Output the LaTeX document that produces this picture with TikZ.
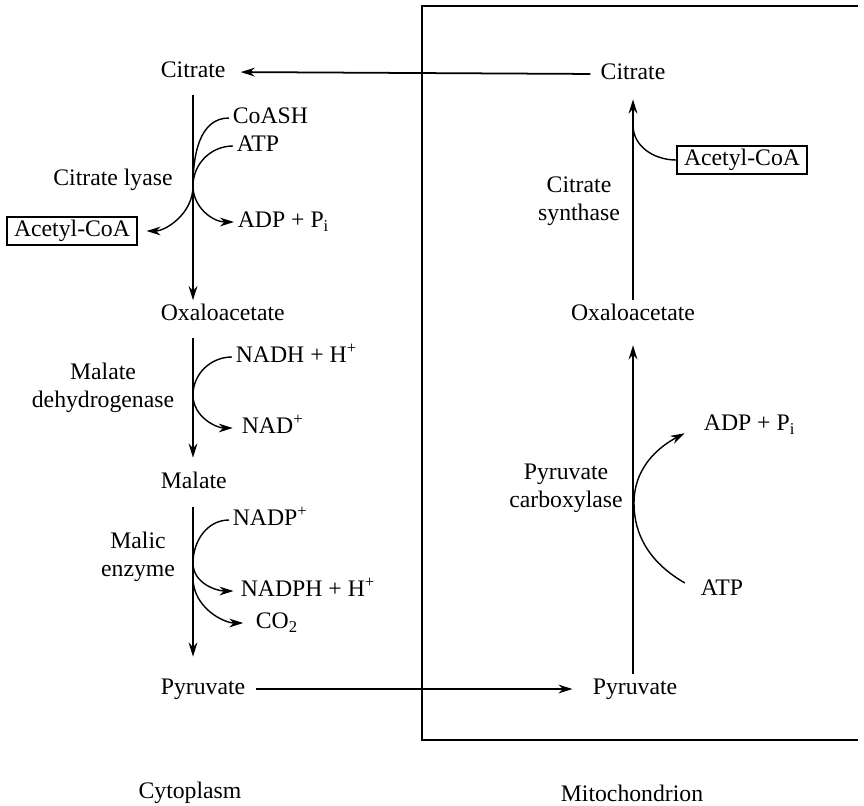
\documentclass[tikz,border=0pt]{standalone}
\usepackage{fontspec}
\setmainfont{Liberation Serif}
\usetikzlibrary{arrows.meta}

\tikzset{
  met/.style={inner sep=2pt,text height=9.5pt,text depth=3pt},
  cof/.style={met,anchor=west},
  enz/.style={align=center},
  coabox/.style={met,draw,line width=0.9pt,inner xsep=4pt,inner ysep=1.7pt},
  flow/.style={line width=1pt,-{Stealth[length=8pt,width=5pt]}},
  side/.style={line width=0.8pt},
  sidearr/.style={side,-{Stealth[length=8pt,width=5pt]}},
}

\begin{document}
\begin{tikzpicture}[x=0.02cm,y=-0.02cm,font=\fontsize{13.5}{16}\selectfont]
\useasboundingbox (0,0) rectangle (864,805);

% mitochondrial membrane
\draw[line width=1.6pt] (858,6) -| (422,740) -- (858,740);

% cytoplasm
\node[met,anchor=west] (citL) at (157,72) {Citrate};
\node[met,anchor=west] (oxL) at (157,315) {Oxaloacetate};
\node[met,anchor=west] (malL) at (157,483) {Malate};
\node[met,anchor=west] (pyL) at (157,689) {Pyruvate};
\coordinate (lx) at (193,0);

\node[cof] (coash) at (229,118) {CoASH};
\node[cof] (atpL) at (233,146) {ATP};
\node[cof] (adpL) at (234,222) {ADP + P\textsubscript{i}};
\node[coabox] (acL) at (72,231) {Acetyl-CoA};
\node[enz] at (113,180) {Citrate lyase};

\node[cof] (nadh) at (232,357) {NADH + H\textsuperscript{+}};
\node[cof] (nad) at (238,428) {NAD\textsuperscript{+}};
\node[enz] at (103,388) {Malate\\dehydrogenase};

\node[cof] (nadp) at (229,520) {NADP\textsuperscript{+}};
\node[cof] (nadph) at (237,591) {NADPH + H\textsuperscript{+}};
\node[cof] (co2) at (252,623) {CO\textsubscript{2}};
\node[enz] at (138,557) {Malic\\enzyme};

% mitochondrion
\node[met] (citR) at (633,74) {Citrate};
\node[met] (oxR) at (633,315) {Oxaloacetate};
\node[met] (pyR) at (635,689) {Pyruvate};
\node[coabox] (acR) at (742,160) {Acetyl-CoA};
\node[enz] at (579,201) {Citrate\\synthase};
\node[cof] (adpR) at (700,425) {ADP + P\textsubscript{i}};
\node[cof] (atpR) at (697,590) {ATP};
\node[enz] at (566,488) {Pyruvate\\carboxylase};

\node (cyto) at (190,793) {Cytoplasm};
\node (mito) at (632,793) {Mitochondrion};

% main pathway
\draw[flow,shorten <=4.8pt] (citL.south -| lx) -- (oxL.north -| lx);
\draw[flow,shorten <=4.8pt,shorten >=6pt] (oxL.south -| lx) -- (malL.north -| lx);
\draw[flow,shorten <=5.4pt,shorten >=10pt] (malL.south -| lx) -- (pyL.north -| lx);
\draw[flow,shorten <=3.7pt,shorten >=9.4pt] (pyL.east) -- (pyR.west);
\draw[flow,shorten >=8.8pt] (pyR.north -| oxR) -- (oxR.south);
\draw[flow,shorten >=6pt] (oxR.north) -- (citR.south);
\draw[flow,shorten <=3.7pt,shorten >=6.5pt] (citR.west) -- (citL.east);

% side reactions
\coordinate (bL1) at (193,186);
\coordinate (bL2) at (193,395);
\coordinate (bL3) at (193,563);
\coordinate (bL4) at (193,578);
\coordinate (bR1) at (633,125);
\coordinate (bR2) at (634,503);

\draw[side] (coash.west) to[out=180,in=90] (bL1);
\draw[side] (atpL.west) to[out=180,in=90] (bL1);
\draw[sidearr] (bL1) to[out=-90,in=180] (adpL.west);
\draw[sidearr,shorten >=5pt] (bL1) to[out=-90,in=0] (acL.east);
\draw[sidearr,shorten >=3pt] (nadh.west) to[out=180,in=90] (bL2) to[out=-90,in=180] (nad.west);
\draw[sidearr,shorten >=2pt] (nadp.west) to[out=180,in=90] (bL3) to[out=-90,in=180] (nadph.west);
\draw[sidearr,shorten >=5pt] (bL4) to[out=-90,in=180] (co2.west);
\draw[side] (acR.west) to[out=180,in=-90] (bR1);
\draw[sidearr,shorten <=8pt,shorten >=10pt] (atpR.west) to[out=150,in=-90] (bR2) to[out=90,in=208] (adpR.west);
\end{tikzpicture}
\end{document}
